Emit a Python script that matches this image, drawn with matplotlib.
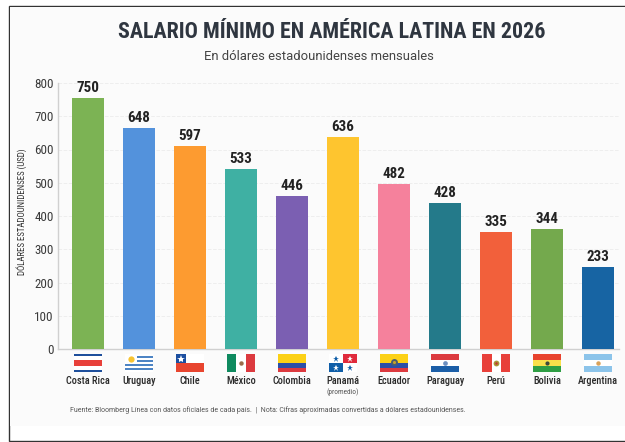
import matplotlib
matplotlib.use("Agg")
import matplotlib.pyplot as plt
from matplotlib import font_manager
from matplotlib.patches import Rectangle

# --- Data ---
paises = ['Costa Rica', 'Uruguay', 'Chile', 'México', 'Colombia', 'Panamá',
          'Ecuador', 'Paraguay', 'Perú', 'Bolivia', 'Argentina']
salarios = [750, 648, 597, 533, 446, 636, 482, 428, 335, 344, 233]
# the drawn bars do not always sit at their printed value
alturas = [755, 665, 611, 541, 460, 638, 496, 439, 352, 361, 247]
colores = ['#7cb354', '#5392dc', '#fd9b30', '#3fb0a3', '#7b5fb2', '#fec52f',
           '#f5819c', '#247a8a', '#f2603b', '#74a94d', '#1764a3']
ticks_y = [0, 100, 200, 300, 400, 500, 600, 700, 800]

W, H = 625, 442
plt.rcParams['font.family'] = 'Roboto'
fig = plt.figure(figsize=(W / 100, H / 100), dpi=100, facecolor='white')

# narrow face for the title and bar labels, if one is there
instaladas = {f.name for f in font_manager.fontManager.ttflist}
estrecha = 'Roboto Condensed' if 'Roboto Condensed' in instaladas else 'Roboto'

# outer frame, the grey sheet stops short of its bottom edge
fig.add_artist(Rectangle((9 / W, 1 - 441 / H), 640 / W, 435 / H, transform=fig.transFigure,
                         facecolor='white', edgecolor='#333333', linewidth=1, zorder=-6))
fig.add_artist(Rectangle((10 / W, 1 - 426 / H), 640 / W, 419 / H, transform=fig.transFigure,
                         facecolor='#fbfbfb', edgecolor='none', zorder=-5))

x0, x1, y0, y1 = 58, 619, 349, 83
x_izq, x_der = -0.588, 10.41
ax = fig.add_axes([x0 / W, 1 - y0 / H, (x1 - x0) / W, (y0 - y1) / H])
ax.patch.set_alpha(0)
ax.bar(range(len(paises)), alturas, width=0.62, color=colores, zorder=3)
ax.set_xlim(x_izq, x_der)
ax.set_ylim(0, 800)
ax.set_yticks(ticks_y)
ax.tick_params(axis='y', length=0, labelsize=9.4, labelcolor='#3a3a3a', pad=3)
for t in ax.get_yticklabels():
    t.set_family(estrecha)
ax.set_xticks([])
ax.grid(axis='y', color='#eeeeee', linestyle='--', linewidth=0.7, zorder=0)
for s in ['top', 'right']:
    ax.spines[s].set_visible(False)
for s in ['left', 'bottom']:
    ax.spines[s].set_color('#d0d0d0')
    ax.spines[s].set_linewidth(1)
ax.set_ylabel('DÓLARES ESTADOUNIDENSES (USD)', fontsize=6.4, color='#333333', family=estrecha)
ax.yaxis.set_label_coords(-31 / (x1 - x0), 0.515)

for i, (a, v) in enumerate(zip(alturas, salarios)):
    ax.annotate(str(v), (i, a), xytext=(0, 2.2), textcoords='offset points', ha='center', va='bottom',
                fontsize=10.8, fontweight='bold', color='#222222', family=estrecha)

# country names under the flags
for i, p in enumerate(paises):
    px = x0 + (i - x_izq) * (x1 - x0) / (x_der - x_izq)
    fig.text(px / W, 1 - 381 / H, p, ha='center', va='center', fontsize=7.4,
             fontweight='medium', color='#2a2a2a', family=estrecha)
    if p == 'Panamá':
        fig.text(px / W, 1 - 392.5 / H, '(promedio)', ha='center', va='center', fontsize=5.2,
                 color='#555555', family=estrecha)


# --- Flags, drawn on a small axes of 0-1 in both directions ---
def bandas(fl, cols, alts=None):
    alts = alts or [1 / len(cols)] * len(cols)
    y = 1
    for c, a in zip(cols, alts):
        y -= a
        fl.add_patch(Rectangle((0, y), 1, a, color=c, lw=0))


def estrella(fl, x, y, c='white', s=5.5):
    fl.plot([x], [y], marker='*', color=c, markersize=s, markeredgewidth=0)


def punto(fl, x, y, c, s):
    fl.plot([x], [y], 'o', color=c, markersize=s, markeredgewidth=0)


def bandera(fl, nombre):
    if nombre == 'Costa Rica':
        bandas(fl, ['#1e4f9c', 'white', '#e8403a', 'white', '#1e4f9c'], [.12, .2, .36, .2, .12])
    elif nombre == 'Uruguay':
        for k in range(9):
            fl.add_patch(Rectangle((0, 1 - (k + 1) / 9), 1, 1 / 9,
                                   color='#4d84c4' if k % 2 else 'white', lw=0))
        fl.add_patch(Rectangle((0, 5 / 9), 0.42, 4 / 9, color='white', lw=0))
        punto(fl, 0.2, 0.75, '#f8c431', 4.5)
    elif nombre == 'Chile':
        bandas(fl, ['white', '#e8452f'])
        fl.add_patch(Rectangle((0, 0.5), 0.37, 0.5, color='#1c4fa0', lw=0))
        estrella(fl, 0.185, 0.75, s=6)
    elif nombre == 'México':
        fl.add_patch(Rectangle((1 / 3, 0), 1 / 3, 1, color='white', lw=0))
        fl.add_patch(Rectangle((0, 0), 1 / 3, 1, color='#0f8a5f', lw=0))
        fl.add_patch(Rectangle((2 / 3, 0), 1 / 3, 1, color='#dc3a3f', lw=0))
        punto(fl, 0.5, 0.5, '#9a6b4a', 3.2)
    elif nombre == 'Colombia':
        bandas(fl, ['#fcd116', '#2b4fa8', '#dc3a3f'], [0.5, 0.25, 0.25])
    elif nombre == 'Panamá':
        bandas(fl, ['white'])
        fl.add_patch(Rectangle((0.5, 0.5), 0.5, 0.5, color='#e02a3c', lw=0))
        fl.add_patch(Rectangle((0, 0), 0.5, 0.5, color='#0f5ea8', lw=0))
        estrella(fl, 0.25, 0.75, '#0f5ea8', 5)
        estrella(fl, 0.75, 0.75, 'white', 5)
        estrella(fl, 0.25, 0.25, 'white', 5)
        estrella(fl, 0.75, 0.25, '#0f5ea8', 5)
    elif nombre == 'Ecuador':
        bandas(fl, ['#fcd116', '#2b4fa8', '#dc3a3f'], [0.5, 0.25, 0.25])
        punto(fl, 0.5, 0.55, '#4a5d6e', 5)
        punto(fl, 0.5, 0.55, '#c9a227', 2.2)
    elif nombre == 'Paraguay':
        bandas(fl, ['#dc3a3f', 'white', '#1c5fa8'])
        punto(fl, 0.5, 0.5, '#6d8fc0', 3.4)
    elif nombre == 'Perú':
        bandas(fl, ['white'])
        fl.add_patch(Rectangle((0, 0), 1 / 3, 1, color='#e8403a', lw=0))
        fl.add_patch(Rectangle((2 / 3, 0), 1 / 3, 1, color='#e8403a', lw=0))
        punto(fl, 0.5, 0.5, '#a9973a', 4.2)
        punto(fl, 0.5, 0.5, '#c0392b', 1.8)
    elif nombre == 'Bolivia':
        bandas(fl, ['#e8432e', '#f9e04a', '#2f9e44'])
        punto(fl, 0.5, 0.5, '#3d4a3a', 3)
    elif nombre == 'Argentina':
        bandas(fl, ['#8cc4ea', 'white', '#8cc4ea'])
        punto(fl, 0.5, 0.5, '#d9a25a', 3.2)


for i, p in enumerate(paises):
    px = x0 + (i - x_izq) * (x1 - x0) / (x_der - x_izq)
    fl = fig.add_axes([(px - 13.7) / W, 1 - 372 / H, 27.4 / W, 18 / H])
    fl.set_xlim(0, 1)
    fl.set_ylim(0, 1)
    fl.axis('off')
    bandera(fl, p)

fig.text(332 / W, 1 - 32 / H, 'SALARIO MÍNIMO EN AMÉRICA LATINA EN 2026', ha='center', va='center',
         fontsize=15.8, fontweight='bold', color='#2f3640', family=estrecha)
fig.text(318.5 / W, 1 - 57 / H, 'En dólares estadounidenses mensuales', ha='center', va='center',
         fontsize=9.4, color='#444444')
fig.text(70 / W, 1 - 410 / H,
         'Fuente: Bloomberg Línea con datos oficiales de cada país.  |  Nota: Cifras aproximadas convertidas a dólares estadounidenses.',
         ha='left', va='center', fontsize=5.05, color='#555555')

fig.savefig('out.png', dpi=100)
